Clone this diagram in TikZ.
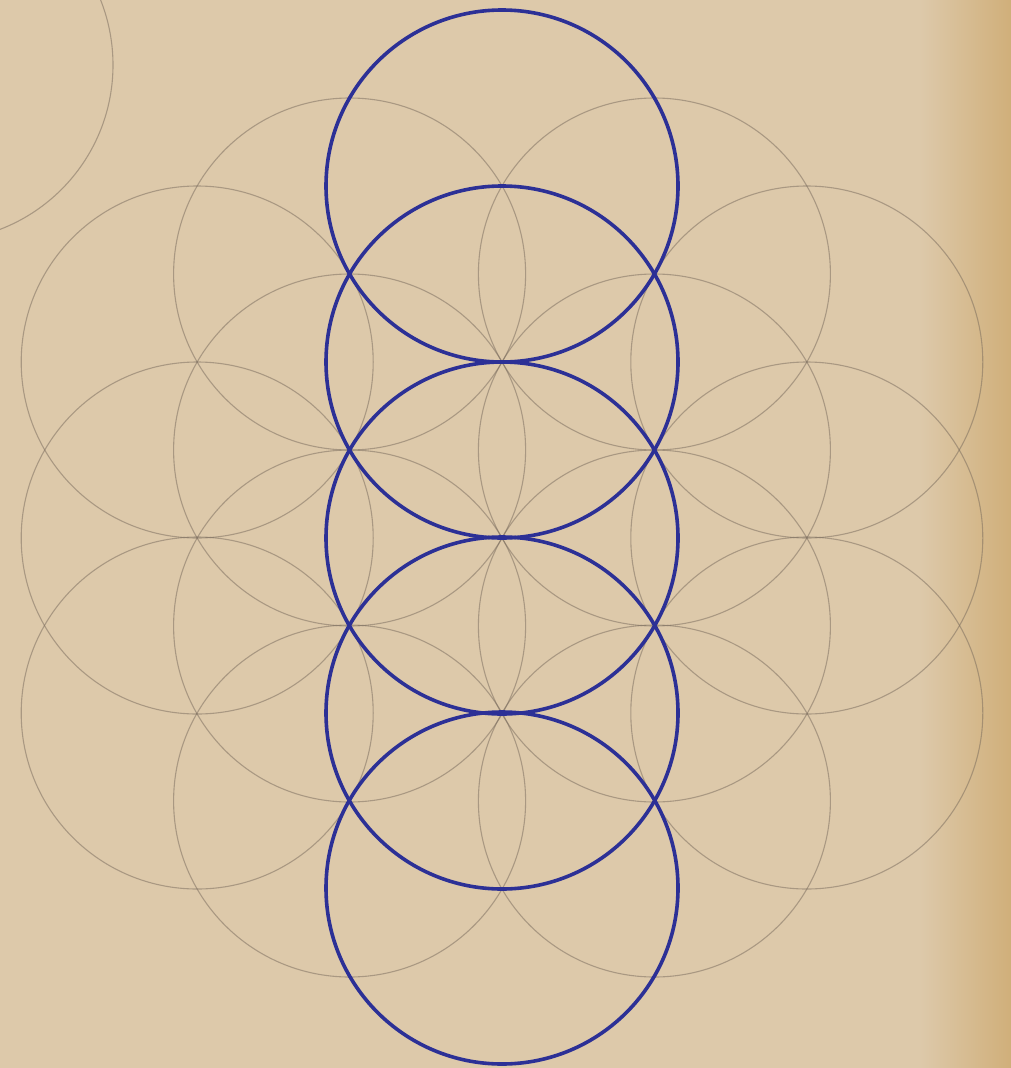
\documentclass[tikz,border=0pt]{standalone}
\begin{document}
\begin{tikzpicture}[x=1pt,y=-1pt,
  greyc/.style={draw=black!45!brown!40!gray, draw opacity=0.5, line width=1.1pt},
  bluec/.style={draw=myblue, line width=3.6pt}]
\definecolor{myblue}{RGB}{44,48,150}
\definecolor{paper}{RGB}{221,201,170}
\definecolor{paperdark}{RGB}{208,175,122}
\useasboundingbox (0,0) rectangle (1011,1068);
\fill[paper] (0,0) rectangle (1011,1068);
\shade[left color=paper, right color=paperdark] (920,0) rectangle (1011,1068);
\def\R{176}
% top-left decorative circle
\draw[greyc] (-63,65) circle (\R);
% grey columns
\foreach \x in {349.6,654.4}{
  \foreach \y in {274,450,626,801}{
    \draw[greyc] (\x,\y) circle (\R);
  }
}
\foreach \x in {197.2,806.8}{
  \foreach \y in {362,538,713}{
    \draw[greyc] (\x,\y) circle (\R);
  }
}
% blue central column
\foreach \y in {186,362,538,713,888}{
  \draw[bluec] (502,\y) circle (\R);
}
\end{tikzpicture}
\end{document}
